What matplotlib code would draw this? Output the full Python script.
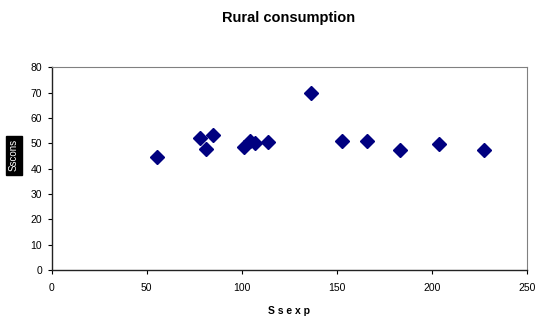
import matplotlib.pyplot as plt

plt.rcParams['font.family'] = ['Liberation Sans', 'DejaVu Sans']

# expenditure vs. consumption readings
ss_exp = [55.6, 77.8, 81.0, 85.0, 101.4, 104.4, 106.7, 113.8,
          136.6, 152.8, 165.8, 183.4, 203.6, 227.2]
ss_cons = [44.7, 52.2, 47.9, 53.4, 48.4, 51.0, 50.2, 50.4,
           70.0, 50.9, 50.9, 47.2, 49.7, 47.2]

x_ticks = [0, 50, 100, 150, 200, 250]
y_ticks = [0, 10, 20, 30, 40, 50, 60, 70, 80]

fig = plt.figure(figsize=(5.37, 3.23), dpi=100)
ax = fig.add_axes([0.0963, 0.164, 0.8851, 0.6276])

ax.plot(ss_exp, ss_cons, linestyle='none', marker='D', markersize=6.8,
        color='#000080', markeredgecolor='#000080')

ax.set_xlim(0, 250)
ax.set_ylim(0, 80)
ax.set_xticks(x_ticks)
ax.set_yticks(y_ticks)
ax.tick_params(labelsize=7.5, length=3, width=0.8, direction='out', pad=4)
ax.tick_params(axis='x', pad=6)

for side in ['top', 'right']:
    ax.spines[side].set_color('#808080')
    ax.spines[side].set_linewidth(0.8)
for side in ['left', 'bottom']:
    ax.spines[side].set_color('#222222')
    ax.spines[side].set_linewidth(1.0)

fig.text(0.538, 0.945, 'Rural consumption', ha='center', va='center',
         fontsize=10.5, fontweight='bold')
fig.text(0.538, 0.037, 'S s e x p', ha='center', va='center',
         fontsize=7.5, fontweight='bold')
fig.text(0.026, 0.52, 'Sscons', ha='center', va='center', rotation=90,
         fontsize=7, color='white',
         bbox=dict(boxstyle='square,pad=0.35', facecolor='black', edgecolor='black'))

fig.savefig('out.png', dpi=100)
